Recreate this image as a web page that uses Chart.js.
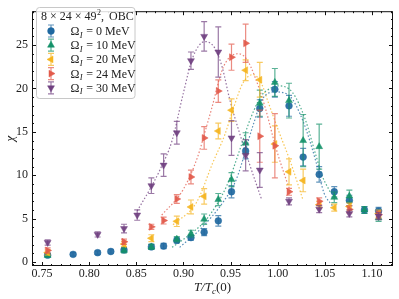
<!DOCTYPE html>
<html lang="en">
<head>
<meta charset="UTF-8">
<title>Susceptibility vs T</title>
<script src="https://cdn.jsdelivr.net/npm/chart.js"></script>
<style>
  body { margin: 0; background: #fff; }
  #wrap { width: 399px; height: 299px; }
</style>
</head>
<body>
<div id="wrap"><canvas id="chart"></canvas></div>
<script>
// measured points, one set per Omega_I
const omegas = [0, 10, 20, 24, 30];

const t0   = [0.756, 0.783, 0.809, 0.823, 0.837, 0.866, 0.879, 0.893, 0.908, 0.922, 0.937, 0.951, 0.966, 0.981, 0.997, 1.012, 1.027, 1.044, 1.060, 1.076, 1.092, 1.107];
const chi0 = [0.80, 0.89, 1.08, 1.22, 1.40, 1.75, 1.85, 2.50, 2.82, 3.45, 4.75, 8.1, 12.8, 17.7, 19.9, 18.0, 12.1, 10.1, 8.1, 7.1, 6.0, 5.9];
const err0 = [0.2, 0.2, 0.2, 0.2, 0.2, 0.3, 0.3, 0.3, 0.3, 0.4, 0.6, 0.7, 0.9, 1.0, 0.9, 1.2, 1.0, 0.9, 0.6, 0.6, 0.4, 0.4];

const t10   = [0.756, 0.837, 0.866, 0.893, 0.908, 0.922, 0.937, 0.951, 0.966, 0.981, 0.997, 1.012, 1.027, 1.044, 1.060, 1.076, 1.092, 1.107];
const chi10 = [0.78, 1.35, 1.75, 2.64, 3.27, 4.94, 7.2, 9.5, 13.7, 18.3, 20.7, 18.6, 14.0, 13.3, 7.46, 7.6, 6.0, 5.1];
const err10 = [0.2, 0.3, 0.3, 0.3, 0.4, 0.6, 0.7, 0.8, 1.2, 1.5, 1.6, 2.0, 3.0, 2.6, 0.6, 0.7, 0.4, 0.4];

const t20   = [0.756, 0.837, 0.866, 0.893, 0.908, 0.922, 0.937, 0.951, 0.966, 0.981, 0.997, 1.012, 1.027, 1.044, 1.060, 1.076, 1.107];
const chi20 = [1.11, 2.08, 2.75, 4.7, 6.35, 7.57, 15.1, 17.5, 22.1, 21.0, 13.6, 10.4, 9.4, 6.6, 6.27, 6.4, 5.6];
const err20 = [0.3, 0.3, 0.4, 0.6, 0.8, 0.9, 0.9, 1.3, 1.2, 2.0, 2.1, 1.5, 1.3, 0.4, 0.4, 0.4, 0.4];

const t24   = [0.756, 0.837, 0.866, 0.879, 0.893, 0.908, 0.922, 0.937, 0.951, 0.966, 0.981, 0.997, 1.012, 1.044, 1.076, 1.107];
const chi24 = [1.34, 2.34, 4.06, 4.79, 7.27, 9.8, 14.3, 19.7, 23.6, 25.2, 14.5, 13.4, 8.1, 7.0, 6.07, 5.46];
const err24 = [0.3, 0.3, 0.3, 0.4, 0.5, 0.8, 1.3, 1.3, 1.5, 2.2, 3.0, 3.7, 0.4, 0.4, 0.4, 0.4];

const t30   = [0.756, 0.809, 0.837, 0.851, 0.866, 0.879, 0.893, 0.908, 0.922, 0.937, 0.951, 0.966, 0.981, 1.012, 1.044, 1.076, 1.107];
const chi30 = [2.26, 3.19, 3.86, 5.42, 8.8, 11.17, 14.9, 23.2, 26.0, 24.2, 14.3, 12.3, 10.6, 7.0, 6.1, 5.6, 5.3];
const err30 = [0.3, 0.3, 0.5, 0.6, 0.9, 1.3, 1.3, 1.0, 1.7, 2.9, 2.0, 1.8, 2.0, 0.4, 0.4, 0.4, 0.4];

// dotted fit curves
const fitT0   = [0.896, 0.918, 0.942, 0.956, 0.974, 0.984, 0.998, 1.012, 1.027, 1.041, 1.049, 1.058];
const fitChi0 = [1.7, 3.8, 6.9, 9.5, 15.8, 18.8, 19.6, 19.2, 16.2, 11.4, 8.0, 6.5];
const fitT10   = [0.888, 0.907, 0.925, 0.946, 0.960, 0.971, 0.983, 0.992, 1.001, 1.016, 1.029, 1.040, 1.047, 1.056];
const fitChi10 = [1.7, 3.2, 5.0, 8.8, 13.0, 16.5, 19.2, 20.0, 20.3, 19.5, 16.5, 12.5, 10.0, 8.0];
const fitT20   = [0.889, 0.914, 0.931, 0.944, 0.953, 0.963, 0.974, 0.983, 0.990, 1.001, 1.014, 1.027];
const fitChi20 = [4.3, 6.9, 11.4, 14.7, 17.7, 20.6, 21.6, 20.5, 18.4, 15.1, 11.4, 7.1];
const fitT24   = [0.877, 0.900, 0.915, 0.925, 0.930, 0.941, 0.949, 0.958, 0.967, 0.976, 0.987, 0.998, 1.009, 1.014];
const fitChi24 = [5.4, 8.4, 12.1, 15.8, 17.7, 22.1, 23.6, 24.0, 23.4, 21.3, 17.7, 13.2, 9.5, 8.0];
const fitT30   = [0.851, 0.865, 0.875, 0.888, 0.900, 0.910, 0.923, 0.933, 0.941, 0.949, 0.960, 0.971, 0.983];
const fitChi30 = [5.9, 8.5, 10.6, 14.0, 19.5, 23.6, 25.4, 24.7, 22.5, 18.8, 14.7, 11.0, 7.2];

const xTicks = [0.75, 0.80, 0.85, 0.90, 0.95, 1.00, 1.05, 1.10];
const yTicks = [0, 5, 10, 15, 20, 25];

const colors = ['31,104,160', '20,145,105', '245,180,30', '226,90,75', '112,64,128'];
const shapes = [
  { style: 'circle', rot: 0, r: 3.4 },
  { style: 'triangle', rot: 0, r: 4 },
  { style: 'triangle', rot: 270, r: 4 },
  { style: 'triangle', rot: 90, r: 4 },
  { style: 'triangle', rot: 180, r: 4 }
];

const serif = "'Liberation Serif', 'DejaVu Serif', serif";
const pts = (xs, ys) => xs.map((x, i) => ({ x: x, y: ys[i] }));

const series = [[t0, chi0, err0], [t10, chi10, err10], [t20, chi20, err20], [t24, chi24, err24], [t30, chi30, err30]];
const fits = [[fitT0, fitChi0], [fitT10, fitChi10], [fitT20, fitChi20], [fitT24, fitChi24], [fitT30, fitChi30]];

const datasets = [];
fits.forEach((f, i) => {
  datasets.push({
    type: 'line',
    data: pts(f[0], f[1]),
    borderColor: `rgba(${colors[i]},0.75)`,
    borderWidth: 1.2,
    borderDash: [1.5, 2],
    pointRadius: 0,
    cubicInterpolationMode: 'monotone',
    fill: false,
    order: 20
  });
});
series.forEach((s, i) => {
  datasets.push({
    type: 'scatter',
    data: pts(s[0], s[1]),
    err: s[2],
    col: colors[i],
    backgroundColor: `rgba(${colors[i]},0.92)`,
    borderColor: `rgba(${colors[i]},0.92)`,
    borderWidth: 0.5,
    pointStyle: shapes[i].style,
    rotation: shapes[i].rot,
    pointRadius: shapes[i].r,
    order: 10 - i
  });
});

// error bars drawn through the y scale, just under each dataset's markers
const errorBars = {
  id: 'errorBars',
  beforeDatasetDraw(chart, args) {
    const ds = chart.data.datasets[args.index];
    if (!ds.err) return;
    const ctx = chart.ctx, y = chart.scales.y;
    ctx.save();
    ctx.strokeStyle = `rgba(${ds.col},0.7)`;
    ctx.lineWidth = 1.2;
    args.meta.data.forEach((pt, i) => {
      const v = ds.data[i].y, e = ds.err[i];
      const y1 = y.getPixelForValue(v - e), y2 = y.getPixelForValue(v + e);
      ctx.beginPath();
      ctx.moveTo(pt.x, y1); ctx.lineTo(pt.x, y2);
      ctx.moveTo(pt.x - 3, y1); ctx.lineTo(pt.x + 3, y1);
      ctx.moveTo(pt.x - 3, y2); ctx.lineTo(pt.x + 3, y2);
      ctx.stroke();
    });
    ctx.restore();
  }
};

// frame, inward ticks, axis titles and legend
const decor = {
  id: 'decor',
  afterDraw(chart) {
    const ctx = chart.ctx, a = chart.chartArea;
    const xs = chart.scales.x, ys = chart.scales.y;
    ctx.save();
    ctx.strokeStyle = '#111';
    ctx.lineWidth = 1;
    ctx.strokeRect(a.left + 0.5, a.top + 0.5, a.right - a.left - 1, a.bottom - a.top - 1);

    ctx.beginPath();
    for (let k = 74; k <= 112; k++) {
      const px = Math.round(xs.getPixelForValue(k / 100)) + 0.5;
      if (px < a.left || px > a.right) continue;
      const len = k % 5 === 0 ? 4 : 2;
      ctx.moveTo(px, a.bottom); ctx.lineTo(px, a.bottom - len);
      ctx.moveTo(px, a.top); ctx.lineTo(px, a.top + len);
    }
    for (let k = 0; k <= 28; k++) {
      const py = Math.round(ys.getPixelForValue(k)) + 0.5;
      if (py < a.top || py > a.bottom) continue;
      const len = k % 5 === 0 ? 4 : 2;
      ctx.moveTo(a.left, py); ctx.lineTo(a.left + len, py);
      ctx.moveTo(a.right, py); ctx.lineTo(a.right - len, py);
    }
    ctx.stroke();

    // axis titles
    ctx.fillStyle = '#222';
    ctx.textBaseline = 'alphabetic';
    ctx.font = `italic 13px ${serif}`;
    const w1 = ctx.measureText('T/T').width;
    ctx.font = `italic 9px ${serif}`;
    const w2 = ctx.measureText('c').width;
    ctx.font = `13px ${serif}`;
    const w3 = ctx.measureText('(0)').width;
    let x0 = (a.left + a.right) / 2 - (w1 + w2 + w3) / 2;
    const by = 291;
    ctx.font = `italic 13px ${serif}`;
    ctx.fillText('T/T', x0, by);
    ctx.font = `italic 9px ${serif}`;
    ctx.fillText('c', x0 + w1, by + 2.5);
    ctx.font = `13px ${serif}`;
    ctx.fillText('(0)', x0 + w1 + w2, by);

    ctx.save();
    ctx.translate(14, (a.top + a.bottom) / 2);
    ctx.rotate(-Math.PI / 2);
    ctx.font = `italic 13px ${serif}`;
    ctx.textAlign = 'center';
    ctx.fillText('χ', 0, 0);
    ctx.restore();

    // legend box
    const lx = 36.5, ly = 7.5, lw = 98.5, lh = 91;
    ctx.beginPath();
    ctx.roundRect(lx, ly, lw, lh, 3);
    ctx.fillStyle = 'rgba(255,255,255,0.85)';
    ctx.fill();
    ctx.strokeStyle = '#c8c8c8';
    ctx.stroke();

    ctx.fillStyle = '#222';
    ctx.font = `12px ${serif}`;
    let tx = 41;
    ctx.fillText('8 × 24 × 49', tx, 20);
    tx += ctx.measureText('8 × 24 × 49').width;
    ctx.font = `8px ${serif}`;
    ctx.fillText('2', tx + 0.5, 15);
    tx += ctx.measureText('2').width + 0.5;
    ctx.font = `12px ${serif}`;
    ctx.fillText(',', tx, 20);
    ctx.fillText('OBC', 109, 20);

    omegas.forEach((om, i) => {
      const cy = 31 + i * 14.2, mx = 51;
      ctx.strokeStyle = `rgba(${colors[i]},0.7)`;
      ctx.lineWidth = 1.2;
      ctx.beginPath();
      ctx.moveTo(mx, cy - 6); ctx.lineTo(mx, cy + 6);
      ctx.moveTo(mx - 3, cy - 6); ctx.lineTo(mx + 3, cy - 6);
      ctx.moveTo(mx - 3, cy + 6); ctx.lineTo(mx + 3, cy + 6);
      ctx.stroke();
      ctx.fillStyle = `rgb(${colors[i]})`;
      ctx.strokeStyle = `rgb(${colors[i]})`;
      ctx.lineWidth = 0.5;
      Chart.helpers.drawPoint(ctx, { pointStyle: shapes[i].style, rotation: shapes[i].rot, radius: shapes[i].r, borderWidth: 0.5 }, mx, cy);

      ctx.fillStyle = '#222';
      let x = 70.5;
      const b = cy + 4;
      ctx.font = `12px ${serif}`;
      ctx.fillText('Ω', x, b);
      x += ctx.measureText('Ω').width;
      ctx.font = `italic 8.5px ${serif}`;
      ctx.fillText('I', x + 0.3, b + 2.5);
      x += ctx.measureText('I').width + 1;
      ctx.font = `12px ${serif}`;
      ctx.fillText(' = ' + om + ' MeV', x, b);
    });
    ctx.restore();
  }
};

new Chart(document.getElementById('chart'), {
  type: 'scatter',
  data: { datasets: datasets },
  options: {
    responsive: true,
    maintainAspectRatio: false,
    animation: false,
    layout: { padding: { top: 3, right: 6, left: 0, bottom: 0 } },
    plugins: { legend: { display: false }, tooltip: { enabled: false } },
    scales: {
      x: {
        type: 'linear',
        min: 0.7394,
        max: 1.1223,
        grid: { display: false, drawTicks: false },
        border: { display: false },
        afterBuildTicks: s => { s.ticks = xTicks.map(v => ({ value: v })); },
        afterFit: s => { s.height = 33; },
        ticks: {
          autoSkip: false,
          maxRotation: 0,
          padding: 1,
          color: '#222',
          font: { family: serif, size: 12 },
          callback: v => v.toFixed(2)
        }
      },
      y: {
        min: -0.45,
        max: 28.9,
        grid: { display: false, drawTicks: false },
        border: { display: false },
        afterBuildTicks: s => { s.ticks = yTicks.map(v => ({ value: v })); },
        afterFit: s => { s.width = 32; },
        ticks: {
          padding: 4,
          color: '#222',
          font: { family: serif, size: 12 },
          callback: v => String(v)
        }
      }
    }
  },
  plugins: [errorBars, decor]
});
</script>
</body>
</html>
